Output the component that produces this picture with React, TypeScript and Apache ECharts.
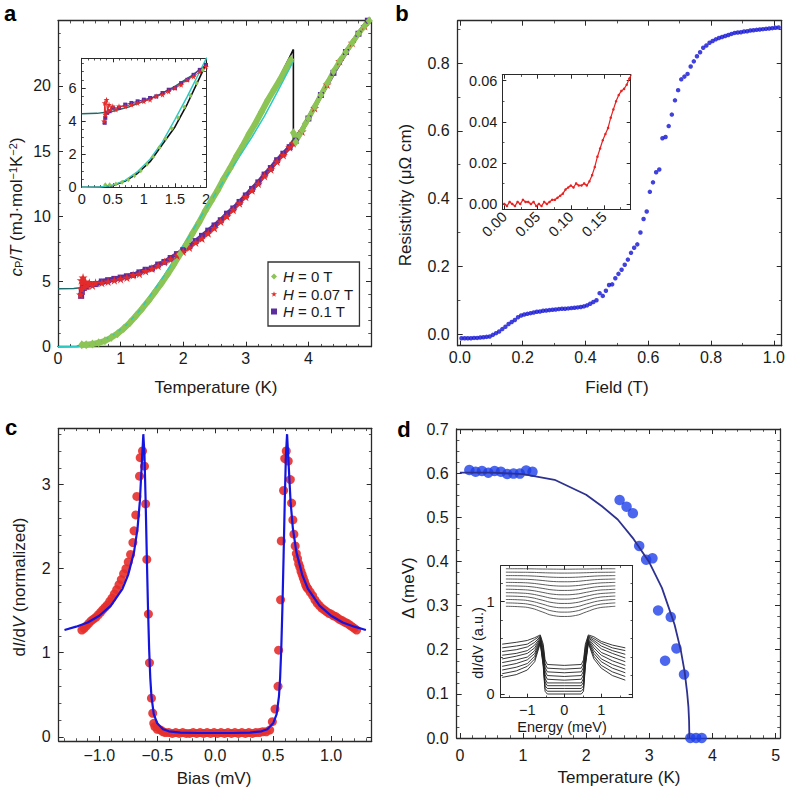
import React, { useEffect, useRef } from "react";
import * as echarts from "echarts";

type Pt = [number, number];
const FONT = '"Liberation Sans", Arial, Helvetica, sans-serif';

// ---------------- Panel a : specific heat ----------------
const aGreenSC: Pt[] = [[0.38,0.15],[0.45,0.15],[0.55,0.2],[0.65,0.3],[0.75,0.45],[0.85,0.7],[0.95,1.0],[1.05,1.4],[1.15,1.85],[1.25,2.4],[1.35,2.95],[1.45,3.55],[1.55,4.2],[1.65,4.85],[1.75,5.55],[1.85,6.3],[1.95,7.1],[2.05,7.85],[2.15,8.7],[2.25,9.5],[2.35,10.4],[2.45,11.2],[2.55,12.0],[2.65,12.9],[2.75,13.7],[2.85,14.6],[2.95,15.4],[3.05,16.3],[3.15,17.1],[3.25,18.0],[3.35,18.9],[3.45,19.7],[3.55,20.5],[3.65,21.4],[3.72,22.0]];
const aGreenN: Pt[] = [[3.76,16.4],[3.8,15.7],[3.85,16.2],[3.9,16.6],[3.95,17.1],[4.0,17.5],[4.1,18.4],[4.2,19.3],[4.3,20.2],[4.4,21.1],[4.5,21.9],[4.6,22.6],[4.7,23.3],[4.8,24.0],[4.9,24.6],[4.97,25.0]];
const aRed: Pt[] = [[0.36,4.0],[0.37,5.1],[0.38,4.4],[0.4,5.3],[0.42,4.6],[0.44,5.0],[0.47,4.7],[0.5,4.9],[0.55,4.7],[0.6,4.9],[0.7,4.9],[0.8,5.0],[0.9,5.1],[1.0,5.2],[1.1,5.3],[1.2,5.5],[1.3,5.6],[1.4,5.8],[1.5,6.0],[1.6,6.2],[1.7,6.5],[1.8,6.7],[1.9,7.0],[2.0,7.3],[2.1,7.6],[2.2,8.0],[2.3,8.3],[2.4,8.7],[2.5,9.1],[2.6,9.6],[2.7,10.0],[2.8,10.5],[2.9,11.0],[3.0,11.5],[3.1,12.0],[3.2,12.5],[3.3,13.1],[3.4,13.6],[3.5,14.2],[3.6,14.7],[3.7,15.3],[3.76,15.6],[3.9,16.5],[4.1,18.3],[4.3,20.1],[4.5,21.9],[4.7,23.3],[4.9,24.6]];
const aPurple: Pt[] = [[0.37,3.9],[0.38,4.2],[0.41,4.5],[0.45,4.6],[0.5,4.8],[0.6,4.8],[0.7,5.0],[0.8,5.1],[0.9,5.2],[1.0,5.3],[1.1,5.4],[1.2,5.5],[1.3,5.7],[1.4,5.9],[1.5,6.0],[1.6,6.3],[1.7,6.5],[1.8,6.8],[1.9,7.1],[2.0,7.4],[2.1,7.7],[2.2,8.1],[2.3,8.5],[2.4,8.9],[2.5,9.3],[2.6,9.7],[2.7,10.2],[2.8,10.6],[2.9,11.1],[3.0,11.6],[3.1,12.1],[3.2,12.6],[3.3,13.2],[3.4,13.7],[3.5,14.3],[3.6,14.8],[3.7,15.3],[3.8,15.8],[4.0,17.5],[4.2,19.3],[4.4,21.0],[4.6,22.6],[4.8,24.0],[4.95,25.0]];
const aFitBlack: Pt[] = [[0,0],[0.3,0.02],[0.5,0.1],[0.7,0.38],[0.9,0.85],[1.1,1.55],[1.3,2.6],[1.5,3.65],[1.7,5.05],[1.9,6.65],[2.0,7.45],[2.1,8.25],[2.3,9.95],[2.5,11.6],[2.7,13.3],[2.9,15.0],[3.1,16.7],[3.3,18.5],[3.5,20.3],[3.7,22.2],[3.76,22.8],[3.76,15.5]];
const aFitCyan: Pt[] = [[0,0],[0.3,0.02],[0.5,0.12],[0.7,0.42],[0.9,0.95],[1.1,1.7],[1.3,2.75],[1.5,4.1],[1.7,5.5],[1.9,7.0],[2.0,7.75],[2.1,8.5],[2.3,10.1],[2.5,11.6],[2.7,13.1],[2.9,14.6],[3.1,16.1],[3.3,17.7],[3.5,19.5],[3.76,21.9]];
const aNormalFit: Pt[] = [[0,4.45],[0.25,4.47],[0.5,4.6],[0.75,4.85],[1.0,5.2],[1.25,5.6],[1.5,6.1],[1.75,6.7],[2.0,7.4],[2.5,9.2],[3.0,11.5],[3.5,14.2],[4.0,17.5],[4.5,21.9],[5.0,25.3]];
const aLegendNames = ["H = 0 T", "H = 0.07 T", "H = 0.1 T"];
const aXTicks = [0, 1, 2, 3, 4];
const aYTicks = [0, 5, 10, 15, 20];
const aInXTicks = [0, 0.5, 1, 1.5, 2];
const aInYTicks = [0, 2, 4, 6];

// ---------------- Panel b : resistivity ----------------
const bMain: Pt[] = [[0.005,-0.012],[0.015,-0.012],[0.025,-0.012],[0.035,-0.012],[0.045,-0.011],[0.055,-0.011],[0.065,-0.01],[0.075,-0.009],[0.085,-0.008],[0.095,-0.007],[0.105,-0.002],[0.115,0.003],[0.125,0.008],[0.135,0.015],[0.145,0.022],[0.155,0.03],[0.165,0.036],[0.175,0.042],[0.185,0.05],[0.195,0.055],[0.205,0.058],[0.215,0.06],[0.225,0.062],[0.235,0.064],[0.245,0.066],[0.255,0.067],[0.265,0.069],[0.275,0.07],[0.285,0.071],[0.295,0.072],[0.305,0.073],[0.315,0.074],[0.325,0.075],[0.335,0.075],[0.345,0.076],[0.355,0.077],[0.365,0.078],[0.375,0.079],[0.385,0.08],[0.395,0.082],[0.405,0.085],[0.415,0.09],[0.425,0.095],[0.435,0.1],[0.445,0.121],[0.455,0.113],[0.465,0.128],[0.475,0.145],[0.485,0.147],[0.495,0.165],[0.505,0.178],[0.515,0.19],[0.525,0.205],[0.535,0.22],[0.545,0.24],[0.555,0.255],[0.565,0.265],[0.575,0.3],[0.585,0.34],[0.595,0.362],[0.605,0.42],[0.615,0.448],[0.625,0.478],[0.635,0.486],[0.645,0.578],[0.655,0.582],[0.665,0.614],[0.675,0.648],[0.685,0.69],[0.695,0.72],[0.705,0.752],[0.715,0.76],[0.725,0.768],[0.735,0.79],[0.745,0.805],[0.755,0.82],[0.765,0.832],[0.775,0.845],[0.785,0.852],[0.795,0.86],[0.805,0.865],[0.815,0.87],[0.825,0.874],[0.835,0.877],[0.845,0.88],[0.855,0.883],[0.865,0.886],[0.875,0.889],[0.885,0.89],[0.895,0.891],[0.905,0.893],[0.915,0.894],[0.925,0.896],[0.935,0.897],[0.945,0.898],[0.955,0.899],[0.965,0.9],[0.975,0.901],[0.985,0.902],[0.995,0.903],[1.005,0.904],[1.015,0.905]];
const bInset: Pt[] = [[0.0,0.0],[0.004,-0.001],[0.008,0.001],[0.012,0.0],[0.016,-0.001],[0.02,0.001],[0.024,0.0],[0.028,0.002],[0.032,0.001],[0.036,0.001],[0.04,0.0],[0.044,0.001],[0.048,-0.001],[0.052,0.0],[0.056,-0.001],[0.06,0.001],[0.064,0.0],[0.068,0.001],[0.072,0.002],[0.076,0.002],[0.08,0.003],[0.084,0.004],[0.088,0.005],[0.092,0.007],[0.096,0.008],[0.1,0.009],[0.104,0.008],[0.108,0.01],[0.112,0.009],[0.116,0.009],[0.12,0.01],[0.124,0.009],[0.128,0.011],[0.132,0.014],[0.136,0.018],[0.14,0.023],[0.144,0.027],[0.148,0.031],[0.152,0.034],[0.156,0.037],[0.16,0.042],[0.164,0.046],[0.168,0.05],[0.172,0.053],[0.176,0.055],[0.18,0.056],[0.184,0.058],[0.188,0.061],[0.191,0.063]];
const bXTicks = [0, 0.2, 0.4, 0.6, 0.8, 1.0];
const bYTicks = [0, 0.2, 0.4, 0.6, 0.8];
const bInXTicks = [0, 0.05, 0.1, 0.15];
const bInYTicks = [0, 0.02, 0.04, 0.06];

// ---------------- Panel c : tunnelling spectrum ----------------
const cData: Pt[] = [[-1.15,1.27],[-1.13,1.29],[-1.11,1.32],[-1.09,1.35],[-1.07,1.38],[-1.05,1.4],[-1.03,1.42],[-1.01,1.45],[-0.99,1.48],[-0.97,1.51],[-0.95,1.54],[-0.93,1.57],[-0.91,1.61],[-0.89,1.65],[-0.87,1.7],[-0.85,1.75],[-0.83,1.81],[-0.81,1.87],[-0.79,1.94],[-0.77,2.0],[-0.75,2.08],[-0.73,2.17],[-0.71,2.31],[-0.7,2.45],[-0.685,2.64],[-0.676,2.86],[-0.653,3.1],[-0.647,3.32],[-0.627,3.4],[-0.61,3.22],[-0.6,2.77],[-0.59,2.11],[-0.576,1.46],[-0.567,0.88],[-0.55,0.46],[-0.539,0.28],[-0.53,0.16],[-0.52,0.12],[-0.5,0.09],[-0.47,0.08],[-0.45,0.06],[-0.43,0.05],[-0.4,0.05],[-0.37,0.04],[-0.34,0.05],[-0.31,0.04],[-0.28,0.05],[-0.25,0.04],[-0.22,0.04],[-0.19,0.05],[-0.16,0.04],[-0.13,0.05],[-0.1,0.04],[-0.07,0.05],[-0.04,0.04],[-0.01,0.05],[0.02,0.04],[0.05,0.05],[0.08,0.04],[0.11,0.05],[0.14,0.04],[0.17,0.05],[0.2,0.04],[0.23,0.05],[0.26,0.04],[0.29,0.05],[0.32,0.04],[0.35,0.05],[0.38,0.05],[0.41,0.06],[0.44,0.06],[0.47,0.08],[0.493,0.18],[0.516,0.33],[0.542,0.6],[0.547,1.03],[0.564,1.63],[0.57,2.33],[0.59,2.93],[0.6,3.31],[0.613,3.4],[0.63,3.28],[0.648,3.06],[0.659,2.78],[0.67,2.58],[0.679,2.41],[0.69,2.27],[0.7,2.18],[0.71,2.12],[0.72,2.06],[0.73,2.02],[0.74,1.97],[0.75,1.93],[0.76,1.89],[0.77,1.85],[0.78,1.81],[0.79,1.78],[0.8,1.76],[0.82,1.72],[0.84,1.68],[0.86,1.63],[0.88,1.59],[0.9,1.56],[0.92,1.53],[0.94,1.51],[0.96,1.49],[0.98,1.47],[1.0,1.46],[1.02,1.44],[1.04,1.43],[1.06,1.41],[1.08,1.39],[1.1,1.38],[1.12,1.36],[1.14,1.35],[1.16,1.33],[1.18,1.31],[1.2,1.29],[1.22,1.27]];
const cFit: Pt[] = [[-1.3,1.27],[-1.2,1.31],[-1.1,1.36],[-1.0,1.44],[-0.9,1.56],[-0.8,1.76],[-0.75,1.93],[-0.7,2.2],[-0.67,2.48],[-0.65,2.8],[-0.635,3.2],[-0.62,3.6],[-0.61,3.35],[-0.6,2.8],[-0.59,2.15],[-0.58,1.55],[-0.57,1.05],[-0.56,0.7],[-0.55,0.48],[-0.53,0.27],[-0.5,0.16],[-0.45,0.09],[-0.4,0.065],[-0.3,0.05],[-0.15,0.045],[0,0.045],[0.15,0.045],[0.3,0.05],[0.4,0.065],[0.45,0.09],[0.5,0.16],[0.53,0.27],[0.55,0.48],[0.56,0.7],[0.57,1.05],[0.58,1.55],[0.59,2.15],[0.6,2.8],[0.61,3.35],[0.62,3.6],[0.635,3.2],[0.65,2.8],[0.67,2.48],[0.7,2.2],[0.75,1.93],[0.8,1.76],[0.9,1.56],[1.0,1.44],[1.1,1.36],[1.2,1.31],[1.3,1.27]];
const cXTicks = [-1, -0.5, 0, 0.5, 1];
const cYTicks = [0, 1, 2, 3];

// ---------------- Panel d : gap vs temperature ----------------
const dTemp = [0.15,0.25,0.35,0.45,0.55,0.65,0.75,0.85,0.95,1.05,1.15,2.53,2.64,2.74,2.84,2.95,3.05,3.14,3.34,3.25,3.43,3.55,3.65,3.74,3.83];
const dGap = [0.607,0.603,0.605,0.601,0.605,0.603,0.598,0.599,0.599,0.606,0.603,0.539,0.524,0.509,0.435,0.404,0.407,0.289,0.274,0.175,0.203,0.144,0,0,0];
const dFit: Pt[] = [[0,0.601],[0.5,0.601],[1.0,0.598],[1.5,0.585],[2.0,0.551],[2.25,0.525],[2.5,0.495],[2.75,0.451],[3.0,0.398],[3.2,0.34],[3.4,0.257],[3.5,0.198],[3.56,0.15],[3.6,0.102],[3.62,0.07],[3.63,0.039],[3.635,0]];
const dXTicks = [0, 1, 2, 3, 4, 5];
const dYTicks = [0, 0.1, 0.2, 0.3, 0.4, 0.5, 0.6, 0.7];
// inset spectra
const dLowE = [-1.68,-1.3,-1.0,-0.8,-0.65,-0.57,-0.52,-0.46,0,0.46,0.52,0.57,0.65,0.8,1.0,1.3,1.65];
const dLowCurves = [
  [0.18,0.21,0.26,0.35,0.55,0.30,0.03,0.00,0.00,0.00,0.03,0.30,0.55,0.38,0.28,0.20,0.15],
  [0.22,0.25,0.30,0.38,0.56,0.32,0.06,0.03,0.03,0.03,0.06,0.32,0.56,0.41,0.31,0.24,0.19],
  [0.26,0.29,0.33,0.41,0.57,0.34,0.09,0.06,0.06,0.06,0.09,0.34,0.57,0.44,0.35,0.28,0.23],
  [0.30,0.33,0.37,0.44,0.58,0.36,0.13,0.09,0.09,0.09,0.13,0.36,0.58,0.47,0.38,0.32,0.27],
  [0.34,0.37,0.40,0.47,0.59,0.39,0.17,0.12,0.12,0.12,0.17,0.39,0.59,0.50,0.42,0.36,0.31],
  [0.38,0.41,0.44,0.50,0.60,0.42,0.21,0.16,0.15,0.16,0.21,0.42,0.60,0.53,0.45,0.40,0.35],
  [0.42,0.44,0.47,0.53,0.61,0.45,0.25,0.20,0.19,0.20,0.25,0.45,0.61,0.56,0.49,0.44,0.39],
  [0.46,0.48,0.51,0.56,0.62,0.48,0.29,0.24,0.23,0.24,0.29,0.48,0.62,0.58,0.52,0.47,0.43],
  [0.50,0.52,0.54,0.59,0.63,0.51,0.33,0.28,0.27,0.28,0.33,0.51,0.63,0.60,0.55,0.50,0.47],
  [0.54,0.56,0.58,0.61,0.64,0.54,0.37,0.32,0.31,0.32,0.37,0.54,0.64,0.62,0.57,0.53,0.50],
];
const dUpE = [-1.58,-1.2,-0.9,-0.6,-0.3,0,0.3,0.6,0.9,1.2,1.38];
const dUpCurves = [
  [0.95,0.945,0.93,0.89,0.85,0.84,0.85,0.89,0.93,0.945,0.95],
  [0.987,0.982,0.967,0.932,0.897,0.887,0.897,0.932,0.967,0.982,0.987],
  [1.024,1.02,1.006,0.975,0.943,0.934,0.943,0.975,1.006,1.02,1.024],
  [1.061,1.057,1.045,1.017,0.989,0.981,0.989,1.017,1.045,1.057,1.061],
  [1.098,1.094,1.084,1.06,1.035,1.028,1.035,1.06,1.084,1.094,1.098],
  [1.135,1.131,1.123,1.102,1.081,1.075,1.081,1.102,1.123,1.131,1.135],
  [1.172,1.169,1.162,1.145,1.127,1.122,1.127,1.145,1.162,1.169,1.172],
  [1.209,1.207,1.201,1.187,1.173,1.169,1.173,1.187,1.201,1.207,1.209],
  [1.246,1.244,1.24,1.23,1.219,1.216,1.219,1.23,1.24,1.244,1.246],
  [1.283,1.282,1.279,1.272,1.265,1.263,1.265,1.272,1.279,1.282,1.283],
  [1.32,1.319,1.318,1.314,1.311,1.31,1.311,1.314,1.318,1.319,1.32],
  [1.357,1.357,1.356,1.354,1.353,1.352,1.353,1.354,1.356,1.357,1.357],
];
const dInXTicks = [-1, 0, 1];
const dInYTicks = [0, 1];

// ---------------- helpers ----------------
const zip = (xs: number[], ys: number[]): Pt[] => xs.map((x, i) => [x, ys[i]]);
function steps(min: number, max: number, step: number): number[] {
  const out: number[] = [];
  const start = Math.ceil(min / step - 1e-9);
  for (let k = start; k * step <= max + 1e-9; k++) out.push(Math.round(k * step * 1e6) / 1e6);
  return out;
}
const fmtPlain = (v: number) => String(v).replace("-", "\u2212");
const fmtFix = (d: number) => (v: number) => v.toFixed(d).replace("-", "\u2212");
const STAR = "path://M50,0 L61,35 L98,35 L68,57 L79,91 L50,70 L21,91 L32,57 L2,35 L39,35 Z";

interface Side {
  min: number; max: number; labels: number[]; minorStep: number;
  fmt: (v: number) => string; fontSize: number; margin: number; rotate?: number;
}

function buildOption() {
  const xAxis: any[] = [];
  const yAxis: any[] = [];
  const C = "#2a2a2a";
  function axisSet(list: any[], grid: number, dim: "x" | "y", s: Side, lw: number, tl: number) {
    const first = list.length;
    const [p1, p2] = dim === "x" ? ["bottom", "top"] : ["left", "right"];
    const minors = steps(s.min, s.max, s.minorStep).filter(
      (v) => v > s.min && v < s.max && !s.labels.some((l) => Math.abs(l - v) < 1e-9)
    );
    const base = { type: "value", gridIndex: grid, min: s.min, max: s.max, splitLine: { show: false }, silent: true };
    const line = { show: true, onZero: false, lineStyle: { color: C, width: lw } };
    const major = { show: true, inside: true, length: tl, customValues: s.labels, lineStyle: { color: C, width: 1 } };
    const minor = { show: true, inside: true, length: tl * 0.55, customValues: minors, lineStyle: { color: C, width: 0.8 } };
    list.push({
      ...base, position: p1, axisLine: line, axisTick: major,
      axisLabel: { show: true, customValues: s.labels, formatter: s.fmt, fontSize: s.fontSize, fontFamily: FONT, color: "#1a1a1a", margin: s.margin, rotate: s.rotate ?? 0 },
    });
    list.push({ ...base, position: p1, axisLine: { show: false, onZero: false }, axisTick: minor, axisLabel: { show: false } });
    list.push({ ...base, position: p2, axisLine: line, axisTick: major, axisLabel: { show: false } });
    list.push({ ...base, position: p2, axisLine: { show: false, onZero: false }, axisTick: minor, axisLabel: { show: false } });
    return first;
  }

  const grid = [
    { left: 58, top: 20.7, width: 313, height: 326 },
    { left: 81.7, top: 58.3, width: 124.3, height: 129, show: true, backgroundColor: "#fff", borderWidth: 0 },
    { left: 457.7, top: 20.7, width: 326.6, height: 325 },
    { left: 502.3, top: 74.7, width: 128.4, height: 134.6, show: true, backgroundColor: "#fff", borderWidth: 0 },
    { left: 58.7, top: 428.3, width: 313, height: 312.7 },
    { left: 456.7, top: 429, width: 323.3, height: 309 },
    { left: 500.7, top: 565.7, width: 132, height: 132, show: true, backgroundColor: "#fff", borderWidth: 0 },
  ];

  const M = 16, I = 14.5;
  const aX = axisSet(xAxis, 0, "x", { min: 0, max: 5, labels: aXTicks, minorStep: 0.2, fmt: fmtPlain, fontSize: M, margin: 4 }, 1.3, 5);
  const aY = axisSet(yAxis, 0, "y", { min: 0, max: 25, labels: aYTicks, minorStep: 1, fmt: fmtPlain, fontSize: M, margin: 7 }, 1.3, 5);
  const aiX = axisSet(xAxis, 1, "x", { min: 0, max: 2, labels: aInXTicks, minorStep: 0.1, fmt: fmtPlain, fontSize: I, margin: 4 }, 1, 4);
  const aiY = axisSet(yAxis, 1, "y", { min: 0, max: 7.8, labels: aInYTicks, minorStep: 0.5, fmt: fmtPlain, fontSize: I, margin: 5 }, 1, 4);
  const bX = axisSet(xAxis, 2, "x", { min: -0.007, max: 1.025, labels: bXTicks, minorStep: 0.1, fmt: fmtFix(1), fontSize: M, margin: 4 }, 1.3, 5);
  const bY = axisSet(yAxis, 2, "y", { min: -0.034, max: 0.925, labels: bYTicks, minorStep: 0.1, fmt: fmtFix(1), fontSize: M, margin: 8 }, 1.3, 5);
  const biX = axisSet(xAxis, 3, "x", { min: -0.003, max: 0.19, labels: bInXTicks, minorStep: 0.025, fmt: fmtFix(2), fontSize: I, margin: 5, rotate: 45 }, 1, 4);
  const biY = axisSet(yAxis, 3, "y", { min: -0.0026, max: 0.0629, labels: bInYTicks, minorStep: 0.01, fmt: fmtFix(2), fontSize: I, margin: 5 }, 1, 4);
  const cX = axisSet(xAxis, 4, "x", { min: -1.35, max: 1.35, labels: cXTicks, minorStep: 0.1, fmt: fmtFix(1), fontSize: M, margin: 6 }, 1.3, 5);
  const cY = axisSet(yAxis, 4, "y", { min: -0.05, max: 3.67, labels: cYTicks, minorStep: 0.2, fmt: fmtPlain, fontSize: M, margin: 8 }, 1.3, 5);
  const dX = axisSet(xAxis, 5, "x", { min: -0.05, max: 5.07, labels: dXTicks, minorStep: 0.2, fmt: fmtPlain, fontSize: M, margin: 9 }, 1.3, 5);
  const dY = axisSet(yAxis, 5, "y", { min: 0, max: 0.7, labels: dYTicks, minorStep: 0.025, fmt: fmtFix(1), fontSize: M, margin: 8 }, 1.3, 5);
  const diX = axisSet(xAxis, 6, "x", { min: -1.72, max: 1.85, labels: dInXTicks, minorStep: 0.5, fmt: fmtPlain, fontSize: I, margin: 5 }, 1, 4);
  const diY = axisSet(yAxis, 6, "y", { min: -0.04, max: 1.39, labels: dInYTicks, minorStep: 0.2, fmt: fmtPlain, fontSize: I, margin: 6 }, 1, 4);

  const GREEN = "#8cc455", RED = "#e42b2b", PURPLE = "#5b2d9e", CYAN = "#2cc9c2", TEAL = "#1d6b6b";
  const series: any[] = [];
  const ln = (o: any) => series.push({ type: "line", silent: true, animation: false, showSymbol: false, ...o });

  // panel a (main + inset)
  const aSets = [
    { xi: aX, yi: aY, big: true },
    { xi: aiX, yi: aiY, big: false },
  ];
  for (const s of aSets) {
    const ax = { xAxisIndex: s.xi, yAxisIndex: s.yi };
    ln({ ...ax, name: "normal", data: aNormalFit, lineStyle: { color: TEAL, width: 1.5 } });
    ln({ ...ax, name: aLegendNames[2], data: aPurple, showSymbol: true, symbol: "rect", symbolSize: s.big ? 6 : 4, itemStyle: { color: PURPLE }, lineStyle: { color: PURPLE, width: s.big ? 4.5 : 1 } });
    ln({ ...ax, name: aLegendNames[1], data: aRed, showSymbol: true, symbol: STAR, symbolSize: s.big ? 9 : 6, itemStyle: { color: RED }, lineStyle: { color: RED, width: s.big ? 2.5 : 1 } });
    ln({ ...ax, name: "fitBlack", data: aFitBlack, lineStyle: { color: "#111", width: 1.6 } });
    ln({ ...ax, name: aLegendNames[0], data: aGreenSC, showSymbol: true, symbol: "diamond", symbolSize: s.big ? [7, 9] : [4, 5], itemStyle: { color: GREEN }, lineStyle: { color: GREEN, width: s.big ? 6 : 0 } });
    ln({ ...ax, name: aLegendNames[0], data: aGreenN, showSymbol: true, symbol: "diamond", symbolSize: s.big ? [7, 9] : [4, 5], itemStyle: { color: GREEN }, lineStyle: { color: GREEN, width: s.big ? 5 : 0 } });
    ln({ ...ax, name: "fitCyan", data: aFitCyan, lineStyle: { color: CYAN, width: 1.5 } });
  }

  // panel b
  series.push({ type: "scatter", silent: true, animation: false, xAxisIndex: bX, yAxisIndex: bY, data: bMain, symbolSize: 4.5, itemStyle: { color: "#1212d4" } });
  ln({ xAxisIndex: biX, yAxisIndex: biY, data: bInset, showSymbol: true, symbol: "circle", symbolSize: 2.5, itemStyle: { color: "#e8201f" }, lineStyle: { color: "#e8201f", width: 1.2 } });

  // panel c
  series.push({ type: "scatter", silent: true, animation: false, xAxisIndex: cX, yAxisIndex: cY, data: cData, symbolSize: 9, itemStyle: { color: "#e62f2b", opacity: 0.9 } });
  ln({ xAxisIndex: cX, yAxisIndex: cY, data: cFit, lineStyle: { color: "#1515e0", width: 2.2 } });

  // panel d
  ln({ xAxisIndex: dX, yAxisIndex: dY, data: dFit, lineStyle: { color: "#2d3190", width: 1.8 } });
  series.push({ type: "scatter", silent: true, animation: false, xAxisIndex: dX, yAxisIndex: dY, data: zip(dTemp, dGap), symbolSize: 10.5, itemStyle: { color: "#1f40e8" } });
  for (const c of dLowCurves) ln({ xAxisIndex: diX, yAxisIndex: diY, data: zip(dLowE, c), lineStyle: { color: "#222", width: 0.9 } });
  for (const c of dUpCurves) ln({ xAxisIndex: diX, yAxisIndex: diY, data: zip(dUpE, c), smooth: true, lineStyle: { color: "#333", width: 0.8 } });

  const txt = (x: number, y: number, text: string, size: number, extra: any = {}, rich?: any, rot = 0) => ({
    type: "text", x, y, rotation: rot, silent: true,
    style: { text, fontSize: size, fontFamily: FONT, fill: "#1a1a1a", align: "center", verticalAlign: "middle", rich, ...extra },
  });
  const R = Math.PI / 2;
  const richA = {
    i: { fontStyle: "italic", fontSize: 17, fontFamily: FONT, fill: "#1a1a1a" },
    sub: { fontSize: 11, fontFamily: FONT, fill: "#1a1a1a", verticalAlign: "bottom" },
    sup: { fontSize: 11, fontFamily: FONT, fill: "#1a1a1a", verticalAlign: "top" },
  };
  const graphic = [
    txt(10, 13, "a", 22, { fontWeight: "bold", fill: "#000" }),
    txt(402, 13, "b", 22, { fontWeight: "bold", fill: "#000" }),
    txt(11, 427, "c", 22, { fontWeight: "bold", fill: "#000" }),
    txt(404, 429, "d", 22, { fontWeight: "bold", fill: "#000" }),
    txt(16, 207, "{i|c}{sub|P}/{i|T} (mJ\u00b7mol{sup|\u22121}K{sup|\u22122})", 17, {}, richA, R),
    txt(216, 387, "Temperature (K)", 17),
    txt(405, 195, "Resistivity (\u03bc\u03a9 cm)", 17, {}, undefined, R),
    txt(617, 387, "Field (T)", 17),
    txt(19, 587, "d{i|I}/d{i|V} (normalized)", 17, {}, richA, R),
    txt(214, 778, "Bias (mV)", 17),
    txt(408, 588, "\u0394 (meV)", 17, {}, undefined, R),
    txt(619, 777, "Temperature (K)", 17),
    txt(478, 643, "dI/dV (a.u.)", 14.5, {}, undefined, R),
    txt(562, 727, "Energy (meV)", 14.5),
  ];

  return {
    animation: false,
    backgroundColor: "#fff",
    grid,
    xAxis,
    yAxis,
    series,
    graphic,
    legend: {
      left: 268, top: 262, orient: "vertical", selectedMode: false,
      data: [
        { name: aLegendNames[0], icon: "diamond" },
        { name: aLegendNames[1], icon: STAR },
        { name: aLegendNames[2], icon: "rect" },
      ],
      formatter: (n: string) => n.replace(/^H/, "{i|H}"),
      itemWidth: 6, itemHeight: 6, itemGap: 2.5,
      textStyle: { fontSize: 15, fontFamily: FONT, color: "#1a1a1a", padding: [0, 0, 0, 1], rich: { i: { fontStyle: "italic", fontSize: 15, fontFamily: FONT, color: "#1a1a1a" } } },
      borderColor: "#333", borderWidth: 1.3, padding: [7, 6, 7, 3], backgroundColor: "#fff",
    },
  };
}

export default function App() {
  const ref = useRef<HTMLDivElement>(null);
  useEffect(() => {
    if (!ref.current) return;
    const chart = echarts.init(ref.current, undefined, { renderer: "svg" });
    chart.setOption(buildOption() as any);
    return () => chart.dispose();
  }, []);
  return <div ref={ref} style={{ position: "fixed", left: 0, top: 0, width: 788, height: 787, background: "#fff" }} />;
}
